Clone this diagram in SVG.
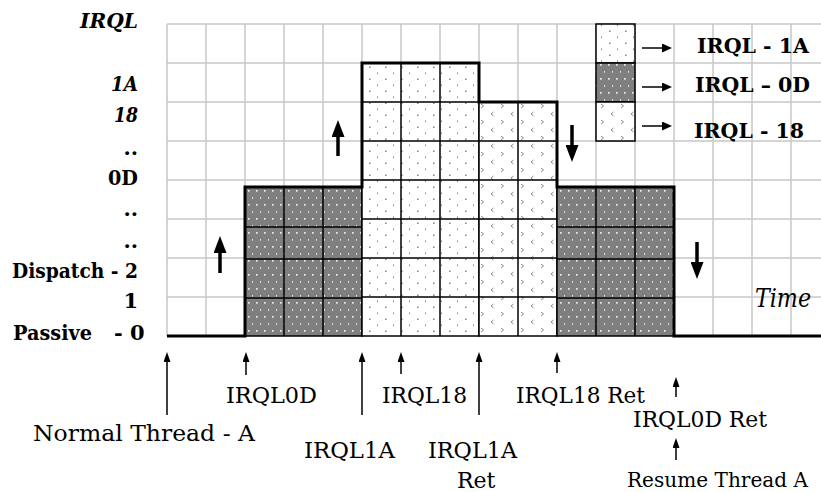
<svg xmlns="http://www.w3.org/2000/svg" width="821" height="492" viewBox="0 0 821 492">
<style>
.grid{stroke:#c8c8c8;stroke-width:1.5;fill:none}
.cell{stroke:#000;stroke-width:1.5}
.cl{stroke:#000;stroke-width:1.5;fill:none}
.outline{stroke:#000;stroke-width:3;fill:none;stroke-linejoin:miter}
.ax{font-family:"DejaVu Serif","Liberation Serif",serif;font-weight:bold;font-size:21px;fill:#000}
.axi{font-style:italic}
.lg{font-family:"DejaVu Serif","Liberation Serif",serif;font-weight:bold;font-size:21px;fill:#000}
.ev{font-family:"DejaVu Serif","Liberation Serif",serif;font-size:22px;fill:#000}
.ev2{font-size:20px}
.tm{font-family:"DejaVu Serif","Liberation Serif",serif;font-style:italic;font-size:26px;fill:#000}
.big{stroke:#000;stroke-width:3.5;fill:none}
.sm{stroke:#000;stroke-width:1.5;fill:none}
</style>
<defs>
<pattern id="pDark" patternUnits="userSpaceOnUse" x="245" y="187" width="8" height="14">
<rect width="8" height="14" fill="#7f7f7f"/>
<rect x="3" y="3" width="1.7" height="1.7" fill="#ececec"/>
<rect x="7" y="10" width="1.7" height="1.7" fill="#ececec"/>
</pattern>
<pattern id="pLight" patternUnits="userSpaceOnUse" x="362" y="63" width="16" height="12">
<rect width="16" height="12" fill="#fff"/>
<rect x="7" y="3.5" width="1.6" height="1.6" fill="#8a8a8a"/>
<rect x="15" y="9.5" width="1.6" height="1.6" fill="#8a8a8a"/>
</pattern>
<pattern id="pChev" patternUnits="userSpaceOnUse" x="479" y="102" width="20" height="16">
<rect width="20" height="16" fill="#fff"/>
<path d="M2,2 L4.5,4 L2,6" stroke="#8a8a8a" stroke-width="1" fill="none"/>
<path d="M14.5,10 L12,12 L14.5,14" stroke="#8a8a8a" stroke-width="1" fill="none"/>
</pattern>
<marker id="hBig" markerUnits="userSpaceOnUse" viewBox="0 0 17 13" markerWidth="17" markerHeight="13" refX="1" refY="6.5" orient="auto">
<path d="M0,0 L17,6.5 L0,13 z" fill="#000"/>
</marker>
<marker id="hSm" markerUnits="userSpaceOnUse" viewBox="0 0 10 7" markerWidth="10" markerHeight="7" refX="1" refY="3.5" orient="auto">
<path d="M0,0 L10,3.5 L0,7 z" fill="#000"/>
</marker>
<marker id="hLg" markerUnits="userSpaceOnUse" viewBox="0 0 10 9" markerWidth="10" markerHeight="9" refX="1" refY="4.5" orient="auto">
<path d="M0,0 L10,4.5 L0,9 z" fill="#000"/>
</marker>
</defs>
<rect width="821" height="492" fill="#fff"/>

<g id="grid" class="grid">
<path d="M167,24V336M206,24V336M245,24V336M284,24V336M323,24V336M362,24V336M401,24V336M440,24V336M479,24V336M518,24V336M557,24V336M596,24V336M635,24V336M674,24V336M713,24V336M752,24V336M791,24V336"/>
<path d="M167,24H821M167,63H821M167,102H821M167,141H821M167,180H821M167,219H821M167,258H821M167,297H821"/>
</g>

<g id="axis-labels">
<text class="ax axi" x="80" y="28" textLength="58" lengthAdjust="spacingAndGlyphs">IRQL</text>
<text class="ax axi" x="111" y="91" textLength="27" lengthAdjust="spacingAndGlyphs">1A</text>
<text class="ax axi" x="114" y="122" textLength="24" lengthAdjust="spacingAndGlyphs">18</text>
<text class="ax" x="138" y="155" text-anchor="end">..</text>
<text class="ax" x="108" y="185" textLength="30" lengthAdjust="spacingAndGlyphs">0D</text>
<text class="ax" x="138" y="216" text-anchor="end">..</text>
<text class="ax" x="138" y="248" text-anchor="end">..</text>
<text class="ax" x="12" y="278" textLength="126" lengthAdjust="spacingAndGlyphs">Dispatch - 2</text>
<text class="ax" x="138" y="308" text-anchor="end">1</text>
<text class="ax"><tspan x="13" y="340" textLength="79" lengthAdjust="spacingAndGlyphs">Passive</tspan> <tspan x="114" y="340">- 0</tspan></text>
</g>

<g id="block-0D-left">
<rect class="cell" x="245" y="187" width="117" height="149" fill="url(#pDark)"/>
<path class="cl" d="M284,187V336M323,187V336M245,227H362M245,259H362M245,298H362"/>
</g>
<g id="block-1A">
<rect class="cell" x="362" y="63" width="117" height="273" fill="url(#pLight)"/>
<path class="cl" d="M401,63V336M440,63V336M362,102H479M362,141H479M362,180H479M362,219H479M362,258H479M362,297H479"/>
</g>
<g id="block-18">
<rect class="cell" x="479" y="102" width="78" height="234" fill="url(#pChev)"/>
<path class="cl" d="M518,102V336M479,141H557M479,180H557M479,219H557M479,258H557M479,297H557"/>
</g>
<g id="block-0D-right">
<rect class="cell" x="557" y="187" width="117" height="149" fill="url(#pDark)"/>
<path class="cl" d="M596,187V336M635,187V336M557,227H674M557,259H674M557,298H674"/>
</g>
<g id="profile">
<path class="outline" d="M167,336H245V187H362V63H479V102H557V187H674V336H821"/>
</g>

<g id="legend">
<rect class="cell" x="596" y="24" width="39" height="39" fill="url(#pLight)"/>
<rect class="cell" x="596" y="63" width="39" height="39" fill="url(#pDark)"/>
<rect class="cell" x="596" y="102" width="39" height="39" fill="url(#pChev)"/>
<text class="lg" x="697" y="53" textLength="112" lengthAdjust="spacingAndGlyphs">IRQL - 1A</text>
<text class="lg" x="695" y="92" textLength="115" lengthAdjust="spacingAndGlyphs">IRQL – 0D</text>
<text class="lg" x="694" y="138" textLength="110" lengthAdjust="spacingAndGlyphs">IRQL - 18</text>
</g>

<g id="time-label">
<text class="tm" x="755" y="307" textLength="56" lengthAdjust="spacingAndGlyphs">Time</text>
</g>

<g id="connectors">
<path class="sm" d="M642,48H663" marker-end="url(#hLg)"/>
<path class="sm" d="M642,87H663" marker-end="url(#hLg)"/>
<path class="sm" d="M642,126H663" marker-end="url(#hLg)"/>
<path class="big" d="M220,273V252" marker-end="url(#hBig)"/>
<path class="big" d="M338,156V136" marker-end="url(#hBig)"/>
<path class="big" d="M572,125V146" marker-end="url(#hBig)"/>
<path class="big" d="M697,242V263" marker-end="url(#hBig)"/>
<path class="sm" d="M167,415V361" marker-end="url(#hSm)"/>
<path class="sm" d="M246,375V361" marker-end="url(#hSm)"/>
<path class="sm" d="M362,415V361" marker-end="url(#hSm)"/>
<path class="sm" d="M401,374V361" marker-end="url(#hSm)"/>
<path class="sm" d="M479,415V361" marker-end="url(#hSm)"/>
<path class="sm" d="M557,373V361" marker-end="url(#hSm)"/>
<path class="sm" d="M676,397V386" marker-end="url(#hSm)"/>
<path class="sm" d="M676,460V447" marker-end="url(#hSm)"/>
</g>

<g id="event-normal-thread"><text class="ev" x="33" y="441" textLength="222" lengthAdjust="spacingAndGlyphs">Normal Thread - A</text></g>
<g id="event-irql0d"><text class="ev" x="226" y="403" textLength="91" lengthAdjust="spacingAndGlyphs">IRQL0D</text></g>
<g id="event-irql1a"><text class="ev" x="304" y="458" textLength="91" lengthAdjust="spacingAndGlyphs">IRQL1A</text></g>
<g id="event-irql18"><text class="ev" x="382" y="403" textLength="85" lengthAdjust="spacingAndGlyphs">IRQL18</text></g>
<g id="event-irql1a-ret"><text class="ev" x="428" y="458" textLength="89" lengthAdjust="spacingAndGlyphs">IRQL1A</text><text class="ev" x="457" y="488">Ret</text></g>
<g id="event-irql18-ret"><text class="ev" x="516" y="403" textLength="129" lengthAdjust="spacingAndGlyphs">IRQL18 Ret</text></g>
<g id="event-irql0d-ret"><text class="ev" x="633" y="427" textLength="134" lengthAdjust="spacingAndGlyphs">IRQL0D Ret</text></g>
<g id="event-resume"><text class="ev ev2" x="627" y="487" textLength="181" lengthAdjust="spacingAndGlyphs">Resume Thread A</text></g>
</svg>
